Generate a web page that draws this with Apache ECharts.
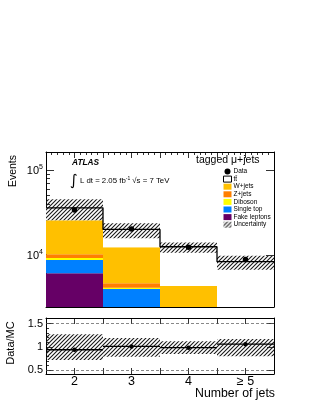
<!DOCTYPE html>
<html>
<head>
<meta charset="utf-8">
<script src="https://cdn.jsdelivr.net/npm/echarts@6/dist/echarts.min.js"></script>
<style>
html,body{margin:0;padding:0;background:#fff;}
#c{width:315px;height:407px;}
</style>
</head>
<body>
<div id="c"></div>
<script>
// ---- data ----
const bins = [2, 3, 4, 5];
const binLabels = ['2', '3', '4', '\u2265 5'];
const fakeLeptons = [6100, 1500, 700, 400];
const singleTop = [2600, 2480, 1100, 600];
const diboson = [500, 140, 60, 30];
const zJets = [1000, 520, 250, 150];
const wJets = [15500, 7660, 2200, 900];
const ttbar = [10200, 7700, 8190, 6260];
const dataEvents = [33900, 20200, 12300, 8840];
const uncLow = [25700, 15700, 10600, 6700];
const uncHigh = [45200, 23600, 14000, 9800];
const ratio = [0.94, 1.01, 0.985, 1.06];
const ratioLow = [0.72, 0.79, 0.85, 0.80];
const ratioHigh = [1.27, 1.19, 1.12, 1.17];
const yMajor = [10000, 100000];
const yMinor = [3000, 4000, 5000, 6000, 7000, 8000, 9000, 20000, 30000, 40000, 50000, 60000, 70000, 80000, 90000];
const rMajor = [0.5, 1, 1.5];
const rMinor = [0.6, 0.7, 0.8, 0.9, 1.1, 1.2, 1.3, 1.4];

const Y_MIN = 2440, Y_MAX = 163000;
const FONT = 'Liberation Sans';

// hatch pattern
const pc = document.createElement('canvas');
pc.width = 4; pc.height = 4;
const pctx = pc.getContext('2d');
pctx.strokeStyle = '#1a1a1a';
pctx.lineWidth = 1.1;
pctx.beginPath();
pctx.moveTo(0, 4); pctx.lineTo(4, 0);
pctx.moveTo(-1, 1); pctx.lineTo(1, -1);
pctx.moveTo(3, 5); pctx.lineTo(5, 3);
pctx.stroke();
const hatch = {image: pc, repeat: 'repeat'};

const colors = {
  fake: '#660066', single: '#0080ff', diboson: '#ffff00', z: '#ff7f00', w: '#ffc000', tt: '#ffffff'
};

// build stacks
const comps = [
  ['Fake leptons', fakeLeptons, colors.fake],
  ['Single top', singleTop, colors.single],
  ['Diboson', diboson, colors.diboson],
  ['Z+jets', zJets, colors.z],
  ['W+jets', wJets, colors.w],
  ['t\u0074\u0304', ttbar, colors.tt]
];
const cum = bins.map(() => 0);
const stackSeries = comps.map(([name, vals, col]) => {
  const items = bins.map((b, i) => {
    const lo = cum[i];
    cum[i] += vals[i];
    return [b, lo, cum[i]];
  });
  return boxSeries(name, 0, items, col, 1);
});
const totals = cum.slice();

function boxSeries(name, gi, items, fill, z) {
  return {
    type: 'custom', name: name, xAxisIndex: gi === 0 ? 0 : 2, yAxisIndex: gi === 0 ? 0 : 3,
    z: z, silent: true, animation: false,
    encode: {x: 0, y: [1, 2]},
    itemStyle: {color: fill},
    data: items,
    renderItem: function (params, api) {
      const c = api.value(0);
      let lo = api.value(1), hi = api.value(2);
      const ymin = gi === 0 ? Y_MIN : 0.42, ymax = gi === 0 ? Y_MAX : 1.62;
      if (hi <= ymin) return null;
      lo = Math.max(lo, ymin); hi = Math.min(hi, ymax);
      const p1 = api.coord([c - 0.5, hi]);
      const p2 = api.coord([c + 0.5, lo]);
      return {type: 'rect', shape: {x: p1[0], y: p1[1], width: p2[0] - p1[0], height: p2[1] - p1[1]},
        style: {fill: fill}};
    }
  };
}

const uncSeries = boxSeries('Uncertainty', 0, bins.map((b, i) => [b, uncLow[i], uncHigh[i]]), hatch, 3);
const ratioBand = boxSeries('ratioBand', 1, bins.map((b, i) => [b, ratioLow[i], ratioHigh[i]]), hatch, 3);

const stepData = bins.map((b, i) => [b - 0.5, totals[i]]);
stepData.push([bins[bins.length - 1] + 0.5, totals[totals.length - 1]]);

const xBase = {
  type: 'value', min: 1.5, max: 5.5, interval: 0.5,
  axisLine: {show: true, onZero: false, lineStyle: {color: '#000', width: 1}},
  axisTick: {show: true, inside: true, length: 6, lineStyle: {color: '#000', width: 0.8}},
  minorTick: {show: true, splitNumber: 5, length: 3, lineStyle: {color: '#000', width: 0.8}},
  axisLabel: {show: false},
  splitLine: {show: false}
};

function yLog(pos, labels) {
  return {
    type: 'log', logBase: 10, min: Y_MIN, max: Y_MAX, gridIndex: 0, position: pos,
    axisLine: {show: true, lineStyle: {color: '#000', width: 1}},
    axisTick: {show: true, inside: true, length: 8, customValues: yMajor, lineStyle: {color: '#000', width: 0.8}},
    axisLabel: labels ? {
      show: true, customValues: yMajor, margin: 3, color: '#000', fontFamily: FONT, fontSize: 11,
      formatter: v => '{b|10}{s|' + Math.round(Math.log10(v)) + '}',
      rich: {b: {fontSize: 11, fontFamily: FONT, color: '#000', verticalAlign: 'bottom'},
             s: {fontSize: 7, fontFamily: FONT, color: '#000', verticalAlign: 'bottom', padding: [0, 0, 6, 0]}}
    } : {show: false},
    splitLine: {show: false}
  };
}
function yLogMinor(pos) {
  return {
    type: 'log', logBase: 10, min: Y_MIN, max: Y_MAX, gridIndex: 0, position: pos,
    axisLine: {show: false},
    axisTick: {show: true, inside: true, length: 4, customValues: yMinor, lineStyle: {color: '#000', width: 0.8}},
    axisLabel: {show: false}, splitLine: {show: false}
  };
}
function yRatio(pos, labels, minor) {
  return {
    type: 'value', min: 0.42, max: 1.62, gridIndex: 1, position: pos,
    axisLine: {show: !minor, lineStyle: {color: '#000', width: 1}},
    axisTick: {show: true, inside: true, length: minor ? 3 : 7, customValues: minor ? rMinor : rMajor, lineStyle: {color: '#000', width: 0.8}},
    axisLabel: labels ? {show: true, customValues: rMajor, margin: 3, color: '#000', fontFamily: FONT, fontSize: 11,
      formatter: v => String(v)} : {show: false},
    splitLine: {show: false}
  };
}

const option = {
  backgroundColor: '#fff',
  animation: false,
  grid: [
    {left: 46, top: 152, width: 228, height: 155, containLabel: false},
    {left: 46, top: 318, width: 228, height: 56, containLabel: false}
  ],
  xAxis: [
    Object.assign({}, xBase, {gridIndex: 0, position: 'bottom'}),
    Object.assign({}, xBase, {gridIndex: 0, position: 'top'}),
    Object.assign({}, xBase, {gridIndex: 1, position: 'bottom', minorTick: {show: false},
      axisLabel: {show: true, customValues: bins, margin: 1, color: '#000', fontFamily: FONT, fontSize: 12.5,
        formatter: v => binLabels[bins.indexOf(Math.round(v))]}}),
    Object.assign({}, xBase, {gridIndex: 1, position: 'top', minorTick: {show: false}})
  ],
  yAxis: [
    yLog('left', true),
    yLogMinor('left'),
    yLog('right', false),
    yRatio('left', true, false),
    yRatio('left', false, true),
    yRatio('right', false, false)
  ],
  legend: {
    orient: 'vertical', left: 218, top: 163, itemWidth: 8, itemHeight: 6, itemGap: 0.6,
    selectedMode: false,
    textStyle: {fontFamily: FONT, fontSize: 6.5, color: '#000', padding: [0, 0, 0, -3]},
    data: [
      {name: 'Data', icon: 'circle', itemStyle: {color: '#000'}},
      {name: 't\u0074\u0304', icon: 'rect', itemStyle: {color: '#fff', borderColor: '#000', borderWidth: 1}},
      {name: 'W+jets', icon: 'rect', itemStyle: {color: colors.w}},
      {name: 'Z+jets', icon: 'rect', itemStyle: {color: colors.z}},
      {name: 'Diboson', icon: 'rect', itemStyle: {color: colors.diboson}},
      {name: 'Single top', icon: 'rect', itemStyle: {color: colors.single}},
      {name: 'Fake leptons', icon: 'rect', itemStyle: {color: colors.fake}},
      {name: 'Uncertainty', icon: 'rect', itemStyle: {color: hatch}}
    ]
  },
  series: stackSeries.concat([
    uncSeries,
    {
      type: 'line', name: 'total', xAxisIndex: 0, yAxisIndex: 0, step: 'end', data: stepData,
      symbol: 'none', lineStyle: {color: '#000', width: 1.3}, z: 4, silent: true
    },
    {
      type: 'scatter', name: 'Data', xAxisIndex: 0, yAxisIndex: 0, symbol: 'circle', symbolSize: 5.5,
      itemStyle: {color: '#000', opacity: 1}, z: 5, silent: true,
      data: bins.map((b, i) => [b, dataEvents[i]])
    },
    ratioBand,
    {
      type: 'custom', name: 'ratioLine', xAxisIndex: 2, yAxisIndex: 3, z: 4, silent: true,
      encode: {x: 0, y: 1},
      data: bins.map((b, i) => [b, ratio[i]]),
      renderItem: function (params, api) {
        const c = api.value(0), r = api.value(1);
        const p1 = api.coord([c - 0.5, r]), p2 = api.coord([c + 0.5, r]);
        return {type: 'line', shape: {x1: p1[0], y1: p1[1], x2: p2[0], y2: p2[1]},
          style: {stroke: '#000', lineWidth: 1.3}};
      },
      markLine: {
        silent: true, symbol: 'none', label: {show: false},
        lineStyle: {color: '#555', type: [3, 2], width: 0.7},
        data: [{yAxis: 1.5}, {yAxis: 0.5}]
      }
    },
    {
      type: 'scatter', name: 'ratioPts', xAxisIndex: 2, yAxisIndex: 3, symbol: 'circle', symbolSize: 4.5,
      itemStyle: {color: '#000', opacity: 1}, z: 5, silent: true,
      data: bins.map((b, i) => [b, ratio[i]])
    }
  ]),
  graphic: [
    {type: 'text', x: 13, y: 155, rotation: Math.PI / 2, silent: true,
      style: {text: 'Events', fontFamily: FONT, fontSize: 10.5, fill: '#000', align: 'right', verticalAlign: 'middle'}},
    {type: 'text', x: 11, y: 343, rotation: Math.PI / 2, silent: true,
      style: {text: 'Data/MC', fontFamily: FONT, fontSize: 11, fill: '#000', align: 'center', verticalAlign: 'middle'}},
    {type: 'text', x: 275, y: 394, silent: true,
      style: {text: 'Number of jets', fontFamily: FONT, fontSize: 12.3, fill: '#000', align: 'right', verticalAlign: 'middle'}},
    {type: 'text', x: 72, y: 163, silent: true,
      style: {text: 'ATLAS', fontFamily: FONT, fontSize: 8.3, fontWeight: 'bold', fontStyle: 'italic', fill: '#000', align: 'left', verticalAlign: 'middle'}},
    {type: 'text', x: 70, y: 181, silent: true,
      style: {text: '{i|\u222B} L dt = 2.05 fb{s|-1} \u221As = 7 TeV', fontFamily: FONT, fontSize: 7.8, fill: '#000', align: 'left', verticalAlign: 'middle',
        rich: {i: {fontSize: 15, fontFamily: 'DejaVu Sans', fill: '#000'}, s: {fontSize: 5, fill: '#000', padding: [0, 0, 5, 0]}}}},
    {type: 'text', x: 196, y: 160, silent: true,
      style: {text: 'tagged \u03BC+jets', fontFamily: FONT, fontSize: 10.5, fill: '#000', align: 'left', verticalAlign: 'middle'}}
  ]
};

const chart = echarts.init(document.getElementById('c'), null, {renderer: 'canvas'});
chart.setOption(option);
</script>
</body>
</html>
